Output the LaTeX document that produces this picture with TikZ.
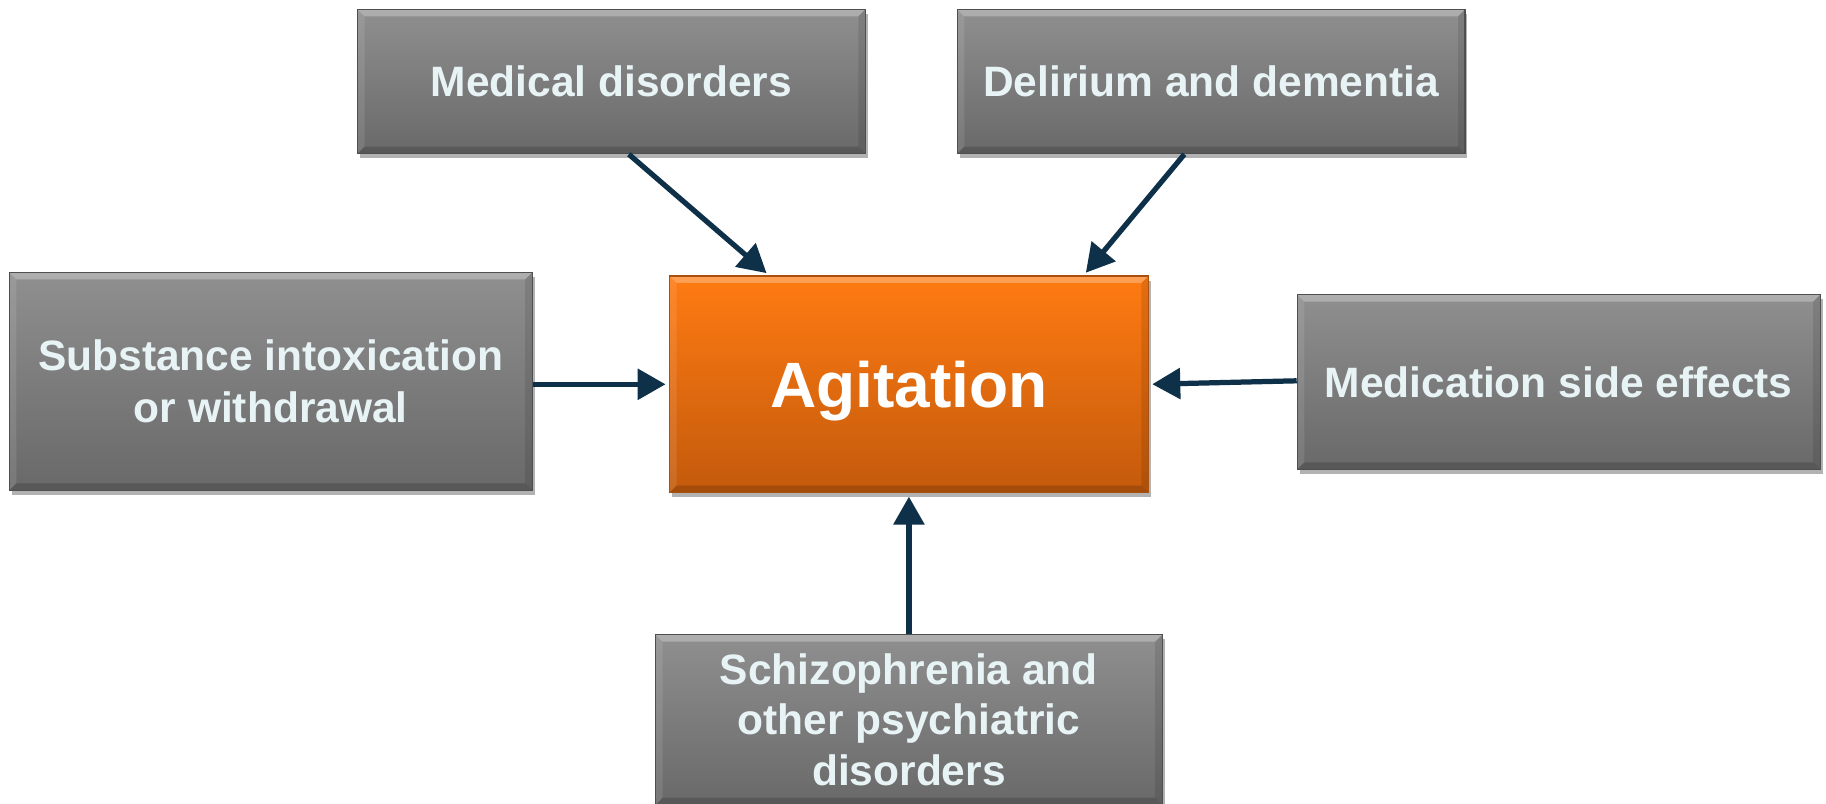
\documentclass[tikz,border=0pt]{standalone}
\usepackage{fontspec}
\setmainfont{Liberation Sans}
\usetikzlibrary{arrows.meta,shadows}
\definecolor{grayTop}{HTML}{8F8F8F}
\definecolor{grayBot}{HTML}{696969}
\definecolor{grayEdge}{HTML}{4F4F4F}
\definecolor{orTop}{HTML}{FF7B12}
\definecolor{orBot}{HTML}{C35A0C}
\definecolor{orEdge}{HTML}{A9500E}
\definecolor{boxtext}{HTML}{E8F3F5}
\definecolor{arrowcol}{HTML}{0E3049}
\tikzset{
  bevel/.style={path picture={
    \fill[white,opacity=0.28] (path picture bounding box.north west) -- (path picture bounding box.north east) -- ([shift={(-6pt,-6pt)}]path picture bounding box.north east) -- ([shift={(6pt,-6pt)}]path picture bounding box.north west) -- cycle;
    \fill[black,opacity=0.16] (path picture bounding box.south west) -- (path picture bounding box.south east) -- ([shift={(-6pt,6pt)}]path picture bounding box.south east) -- ([shift={(6pt,6pt)}]path picture bounding box.south west) -- cycle;
    \fill[black,opacity=0.10] (path picture bounding box.north east) -- (path picture bounding box.south east) -- ([shift={(-6pt,6pt)}]path picture bounding box.south east) -- ([shift={(-6pt,-6pt)}]path picture bounding box.north east) -- cycle;
    \fill[white,opacity=0.10] (path picture bounding box.north west) -- (path picture bounding box.south west) -- ([shift={(6pt,6pt)}]path picture bounding box.south west) -- ([shift={(6pt,-6pt)}]path picture bounding box.north west) -- cycle;
  }},
  graybox/.style={draw=grayEdge, line width=1pt, top color=grayTop, bottom color=grayBot,
    inner sep=0pt, align=center, text=boxtext,
    font=\fontsize{36.5}{44}\selectfont\bfseries,
    drop shadow={shadow xshift=2pt, shadow yshift=-4pt, opacity=0.3, fill=black},
    bevel},
  orbox/.style={draw=orEdge, line width=1pt, top color=orTop, bottom color=orBot,
    inner sep=0pt, align=center, text=white, text depth=0pt,
    font=\fontsize{55}{60}\selectfont\bfseries,
    drop shadow={shadow xshift=2pt, shadow yshift=-4pt, opacity=0.3, fill=black},
    bevel},
  conn/.style={draw=arrowcol, line width=4.5pt, -{Triangle[length=24pt,width=26pt]}, shorten >=3pt}
}
\begin{document}
\begin{tikzpicture}[x=1pt,y=-1pt]
\useasboundingbox (0,0) rectangle (1568,690);
\node[graybox, minimum width=436pt, minimum height=124pt] (med) at (525,70) {Medical disorders};
\node[graybox, minimum width=436pt, minimum height=124pt] (del) at (1040,70) {Delirium and dementia};
\node[graybox, minimum width=449pt, minimum height=187pt] (sub) at (232.5,327.5) {Substance intoxication\\or withdrawal};
\node[orbox, minimum width=411pt, minimum height=186pt] (agi) at (780.5,330) {Agitation};
\node[graybox, minimum width=449pt, minimum height=150pt] (mdc) at (1338.5,328) {Medication side effects};
\node[graybox, minimum width=435pt, minimum height=146pt, font=\fontsize{36.5}{43.5}\selectfont\bfseries] (sch) at (780.5,618) {Schizophrenia and\\other psychiatric\\disorders};
\draw[conn] ([xshift=15pt]med.south) -- ([xshift=-120pt]agi.north);
\draw[conn] ([xshift=-23pt]del.south) -- ([xshift=150pt]agi.north);
\draw[conn] ([yshift=-2.5pt]sub.east) -- (agi.west);
\draw[conn] ([yshift=1pt]mdc.west) -- (agi.east);
\draw[conn] (sch.north) -- (agi.south);
\end{tikzpicture}
\end{document}
